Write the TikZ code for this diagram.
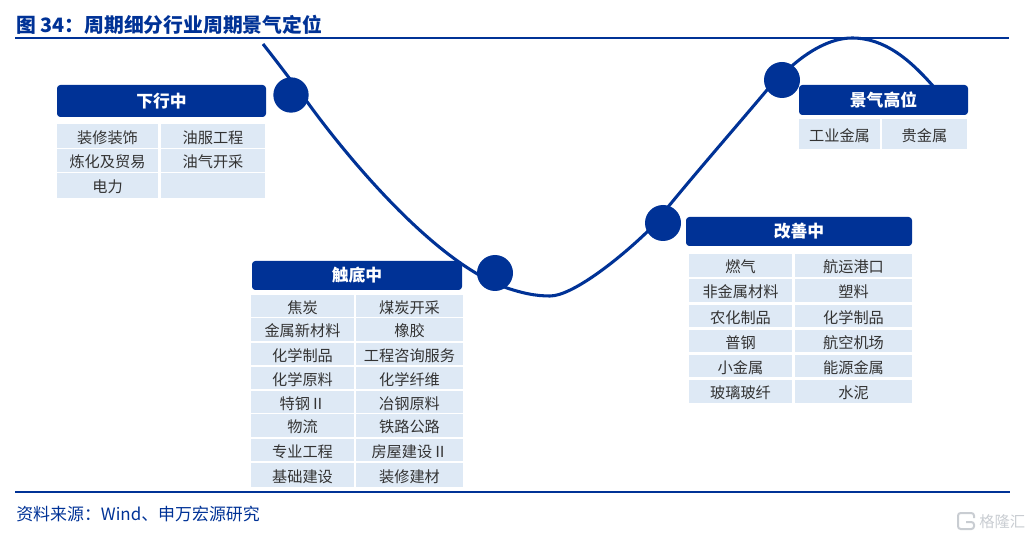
\documentclass[tikz,border=0pt]{standalone}
\usepackage{fontspec}
\setmainfont{Noto Sans CJK SC}
\definecolor{navy}{HTML}{003296}
\definecolor{cellblue}{HTML}{DEE9F5}
\definecolor{cellink}{HTML}{333333}
\definecolor{markgray}{HTML}{C9CDD2}
\newcommand{\cellbox}[6]{\node[cellstyle,minimum width={(#4-#2)*0.75pt},minimum height={(#5-#3)*0.75pt}] (#1) at ({(#2+#4)/2},{(#3+#5)/2}) {#6};}
\newcommand{\headbox}[6]{\node[headstyle,minimum width={(#4-#2)*0.75pt},minimum height={(#5-#3)*0.75pt}] (#1) at ({(#2+#4)/2},{(#3+#5)/2}) {#6};}
\tikzset{
  cellstyle/.style={fill=cellblue,text=cellink,inner sep=0pt,outer sep=0pt,text height=10.8pt,text depth=0pt,font=\fontsize{11.4pt}{12pt}\selectfont},
  headstyle/.style={fill=navy,text=white,rounded corners=2.5pt,inner sep=0pt,outer sep=0pt,font=\fontsize{12.6pt}{13pt}\selectfont\bfseries},
  dotstyle/.style={circle,fill=navy,inner sep=0pt,outer sep=0pt,minimum size=27pt},
  rulestyle/.style={draw=navy},
  curvestyle/.style={draw=navy,line width=2.3pt}
}
\begin{document}
\begin{tikzpicture}[x=0.75pt,y=-0.75pt]
\useasboundingbox (0,0) rectangle (1032,538);
% title and rules
\node[anchor=west,inner sep=0pt,text=navy,font=\fontsize{14.85pt}{16pt}\selectfont\bfseries] (title) at (16,25) {图 34：周期细分行业周期景气定位};
\coordinate (r1a) at (15,38); \coordinate (r1b) at (1009,38);
\draw[rulestyle,line width=1.5pt] (r1a) -- (r1b);
\coordinate (r2a) at (15,492); \coordinate (r2b) at (1010,492);
\draw[rulestyle,line width=2.2pt] (r2a) -- (r2b);
\node[anchor=west,inner sep=0pt,text=navy,font=\fontsize{12.7pt}{13pt}\selectfont] (source) at (16,514) {资料来源：Wind、申万宏源研究};
% curve: it runs near, not through, the centres of the dots
\coordinate (c0) at (263,44);
\coordinate (c1) at (308,103);
\coordinate (c2) at (507,288);
\coordinate (c3) at (550,296);
\coordinate (c4) at (647,232);
\coordinate (c5) at (668,207);
\coordinate (c6) at (767,90);
\coordinate (c7) at (793,65);
\coordinate (c8) at (852,38);
\coordinate (c9) at (933,86);
\draw[curvestyle] (c0) .. controls (278,63) and (293,83) .. (c1)
  .. controls (342,150) and (432,262) .. (c2)
  .. controls (522,293) and (535,296) .. (c3)
  .. controls (572,296) and (618,260) .. (c4)
  -- (c5)
  .. controls (700,168) and (735,128) .. (c6)
  -- (c7)
  .. controls (808,52) and (830,38) .. (c8)
  .. controls (885,38) and (910,60) .. (c9);
\node[dotstyle,minimum size=26.5pt] (d1) at (291,95) {};
\node[dotstyle] (d2) at (495,273) {};
\node[dotstyle] (d3) at (663,223) {};
\node[dotstyle] (d4) at (782,80) {};
% 下行中
\headbox{h1}{57}{85}{266}{117}{下行中}
\cellbox{a1}{57}{124}{158}{148}{装修装饰}
\cellbox{a2}{161}{124}{265}{148}{油服工程}
\cellbox{a3}{57}{149}{158}{172}{炼化及贸易}
\cellbox{a4}{161}{149}{265}{172}{油气开采}
\cellbox{a5}{57}{173}{158}{198}{电力}
\cellbox{a6}{161}{173}{265}{198}{}
% 触底中
\headbox{h2}{252}{261}{462}{290}{触底中}
\cellbox{b1}{251}{295}{354}{317}{焦炭}
\cellbox{b2}{356}{295}{463}{317}{煤炭开采}
\cellbox{b3}{251}{318}{354}{341}{金属新材料}
\cellbox{b4}{356}{318}{463}{341}{橡胶}
\cellbox{b5}{251}{343}{354}{365}{化学制品}
\cellbox{b6}{356}{343}{463}{365}{工程咨询服务}
\cellbox{b7}{251}{367}{354}{389}{化学原料}
\cellbox{b8}{356}{367}{463}{389}{化学纤维}
\cellbox{b9}{251}{391}{354}{413}{特钢Ⅱ}
\cellbox{b10}{356}{391}{463}{413}{冶钢原料}
\cellbox{b11}{251}{414}{354}{437}{物流}
\cellbox{b12}{356}{414}{463}{437}{铁路公路}
\cellbox{b13}{251}{439}{354}{461}{专业工程}
\cellbox{b14}{356}{439}{463}{461}{房屋建设Ⅱ}
\cellbox{b15}{251}{463}{354}{487}{基础建设}
\cellbox{b16}{356}{463}{463}{487}{装修建材}
% 改善中
\headbox{h3}{686}{217}{912}{246}{改善中}
\cellbox{e1}{689}{254}{792}{277}{燃气}
\cellbox{e2}{795}{254}{912}{277}{航运港口}
\cellbox{e3}{689}{279}{792}{302}{非金属材料}
\cellbox{e4}{795}{279}{912}{302}{塑料}
\cellbox{e5}{689}{305}{792}{327}{农化制品}
\cellbox{e6}{795}{305}{912}{327}{化学制品}
\cellbox{e7}{689}{330}{792}{352}{普钢}
\cellbox{e8}{795}{330}{912}{352}{航空机场}
\cellbox{e9}{689}{355}{792}{377}{小金属}
\cellbox{e10}{795}{355}{912}{377}{能源金属}
\cellbox{e11}{689}{380}{792}{403}{玻璃玻纤}
\cellbox{e12}{795}{380}{912}{403}{水泥}
% 景气高位
\headbox{h4}{799}{85}{968}{115}{景气高位}
\cellbox{g1}{799}{119}{880}{149}{工业金属}
\cellbox{g2}{882}{119}{967}{149}{贵金属}
% watermark
\draw[markgray,line width=1.5pt,rounded corners=2pt] (974,518) -- (974,513) -- (958,513) -- (958,529) -- (974,529) -- (974,522) -- (966,522);
\node[anchor=west,inner sep=0pt,text=markgray,font=\fontsize{11.5pt}{12pt}\selectfont] (mark) at (979,522) {格隆汇};
\end{tikzpicture}
\end{document}
